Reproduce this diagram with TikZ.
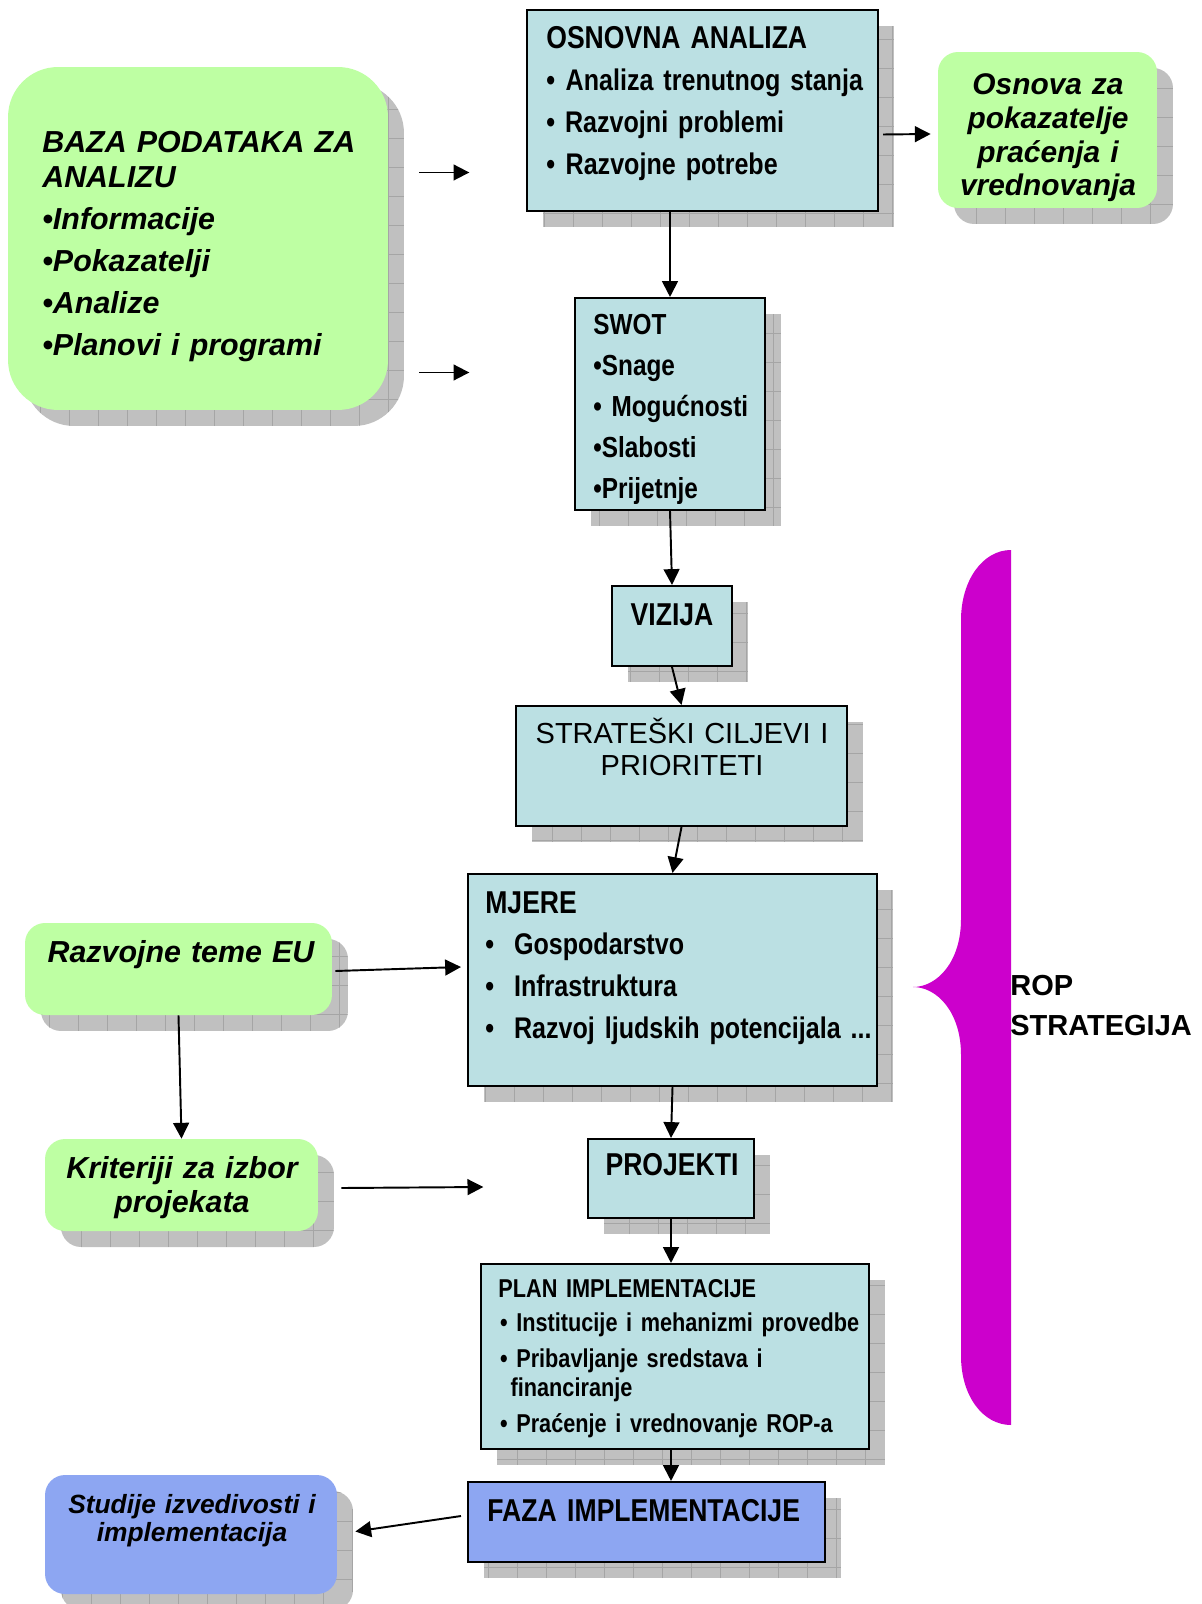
\documentclass[tikz,border=0pt]{standalone}
\usepackage{fontspec}
\setmainfont{Liberation Sans}
\newfontfamily\narrowfont[FakeStretch=0.84]{Liberation Sans}
\usepackage{tikz}
\usetikzlibrary{arrows.meta, shadows}
\definecolor{boxblue}{RGB}{187,224,227}
\definecolor{boxgreen}{RGB}{190,255,163}
\definecolor{boxviolet}{RGB}{141,166,242}
\definecolor{shadowgray}{RGB}{192,192,192}
\definecolor{gridgray}{RGB}{165,165,165}
\definecolor{bracepink}{RGB}{204,0,204}
\tikzset{
>={Triangle[length=9pt,width=9pt]},
  grayshadow/.style={
    drop shadow={shadow xshift=0.32cm, shadow yshift=-0.32cm,
      opacity=1, fill=shadowgray,
      path picture={\draw[gridgray, line width=0.4pt, step=0.58cm]
        (path picture bounding box.south west) grid (path picture bounding box.north east);}}},
  stepbox/.style={
    rectangle,
    draw=black, line width=1.2pt,
    inner sep=0pt,
    grayshadow},
  notebox/.style={
    rectangle,
    inner sep=0pt,
    grayshadow},
  line/.style={draw, line width=1.1pt, ->},
  lefttext/.style={inner sep=0pt, anchor=base west, text width=8cm, align=left},
  midtext/.style={inner sep=0pt, anchor=base, text width=7cm, align=center},
  stepfont/.style 2 args={font=\narrowfont\bfseries\fontsize{#1}{#2}\selectfont},
  notefont/.style 2 args={font=\bfseries\itshape\fontsize{#1}{#2}\selectfont},
}

\begin{document}
\begin{tikzpicture}[x=0.02cm, y=-0.02cm]
			\path[use as bounding box, fill=white] (0,0) rectangle (1201,1604);
			% brace
			\fill[bracepink] (1011,550) .. controls (983,550) and (961,580) .. (961,620) -- (961,919)
				.. controls (961,962) and (937,987) .. (913,987) .. controls (937,987) and (961,1012) .. (961,1055)
				-- (961,1356) .. controls (961,1396) and (983,1425) .. (1011,1425) -- cycle;
			\node[lefttext, font=\bfseries\fontsize{16.5}{23.2}\selectfont] (rop) at (1010,995) {ROP\\STRATEGIJA};
			% green and violet notes
			\foreach \n/\x/\y/\w/\h/\r/\c in {baza/198/238.5/7.6/6.86/1/boxgreen, osnova/1047.5/130/4.38/3.12/0.4/boxgreen,
				razvojne/178.5/969/6.14/1.84/0.4/boxgreen, kriteriji/181.5/1185/5.46/1.84/0.4/boxgreen,
				studije/191/1534.5/5.84/2.38/0.4/boxviolet}{
				\node[notebox, rounded corners=\r cm, fill=\c, minimum width=\w cm, minimum height=\h cm] (\n) at (\x,\y) {};
			}
			% steps
			\foreach \n/\x/\y/\w/\h/\c in {osnovna/702.5/110.5/7.02/4.02/boxblue, swot/670/404/3.8/4.24/boxblue,
				vizija/672/626/2.4/1.6/boxblue, strat/681.5/766/6.62/2.4/boxblue, mjere/672.5/980/8.18/4.24/boxblue,
				projekti/671/1178.5/3.32/1.58/boxblue, plan/675/1356.5/7.76/3.7/boxblue, faza/646.5/1522/7.14/1.6/boxviolet}{
				\node[stepbox, fill=\c, minimum width=\w cm, minimum height=\h cm] (\n) at (\x,\y) {};
			}
			\node[lefttext, notefont={17.3}{19.8}] (baza-txt) at (42,153)
				{BAZA PODATAKA ZA\\ANALIZU\\[4pt]•Informacije\\[4pt]•Pokazatelji\\[4pt]•Analize\\[4pt]•Planovi i programi};
			\node[midtext, notefont={17}{19.1}] (osnova-txt) at (1048,95)
				{Osnova za\\pokazatelje\\ praćenja i\\vrednovanja};
			\node[midtext, notefont={17.3}{19.8}] (razvojne-txt) at (181,962) {Razvojne teme EU};
			\node[midtext, notefont={17.3}{19.8}] (kriteriji-txt) at (182,1178) {Kriteriji za izbor\\projekata};
			\node[midtext, notefont={15}{16.4}] (studije-txt) at (192,1513)
				{Studije izvedivosti i\\implementacija};
			\node[lefttext, stepfont={17}{23.8}] (osnovna-txt) at (546,49)
				{{\fontsize{18}{23.8}\selectfont OSNOVNA ANALIZA}\\•\hspace{6pt}Analiza trenutnog stanja\\• Razvojni problemi\\•\hspace{6pt}Razvojne potrebe};
			\node[lefttext, stepfont={16.5}{23.2}] (swot-txt) at (593,335)
				{SWOT\\•Snage\\• Mogućnosti\\•Slabosti\\•Prijetnje};
			\node[midtext, stepfont={18}{22}] (vizija-txt) at (672,625) {VIZIJA};
			\node[midtext, font=\fontsize{16.5}{18.7}\selectfont] (strat-txt) at (682,743) {STRATEŠKI CILJEVI I\\PRIORITETI};
			\node[lefttext, stepfont={17}{23.8}] (mjere-txt) at (485,913)
				{{\fontsize{18}{23.8}\selectfont MJERE}\\•\ \ Gospodarstvo\\•\ \ Infrastruktura\\•\ \ Razvoj ljudskih potencijala ...};
			\node[midtext, stepfont={18}{22}] (projekti-txt) at (672,1175) {PROJEKTI};
			\node[lefttext, stepfont={14.7}{16.4}] (plan-txt) at (498,1297)
				{PLAN IMPLEMENTACIJE\\[3.5pt]\hspace*{1pt}• Institucije i mehanizmi provedbe\\[4pt]\hspace*{1pt}• Pribavljanje sredstava i\\\hspace*{7pt}financiranje\\[4pt]\hspace*{1pt}• Praćenje i vrednovanje ROP-a};
			\node[lefttext, stepfont={18}{22}] (faza-txt) at (487,1521) {FAZA IMPLEMENTACIJE};
			% arrows
			\draw[line] (osnovna.south -| swot.north) -- (swot.north);
			\foreach \a/\b in {swot/vizija, vizija/strat, strat/mjere, mjere/projekti}
				\draw[line] (\a.south) -- (\b.north);
			\draw[line] (projekti.south) -- (projekti.south |- plan.north);
			\draw[line] (plan.south -| projekti.south) -- (faza.north -| projekti.south);
			\draw[line] ([shift={(4,24)}]osnovna.east) -- ([shift={(-7,4)}]osnova.west);
			\draw[line] ([shift={(31,-66)}]baza.east) -- ++(50,0);
			\draw[line] ([shift={(31,134)}]baza.east) -- ++(50,0);
			\draw[line] ([shift={(3,2)}]razvojne.east) -- ([shift={(-6,-13)}]mjere.west);
			\draw[line] (razvojne.south) -- (kriteriji.north);
			\draw[line] ([shift={(23,3)}]kriteriji.east) -- ++(142,-1);
			\draw[line] ([shift={(-6,-6)}]faza.west) -- ([shift={(18,-3)}]studije.east);
		\end{tikzpicture}
\end{document}
